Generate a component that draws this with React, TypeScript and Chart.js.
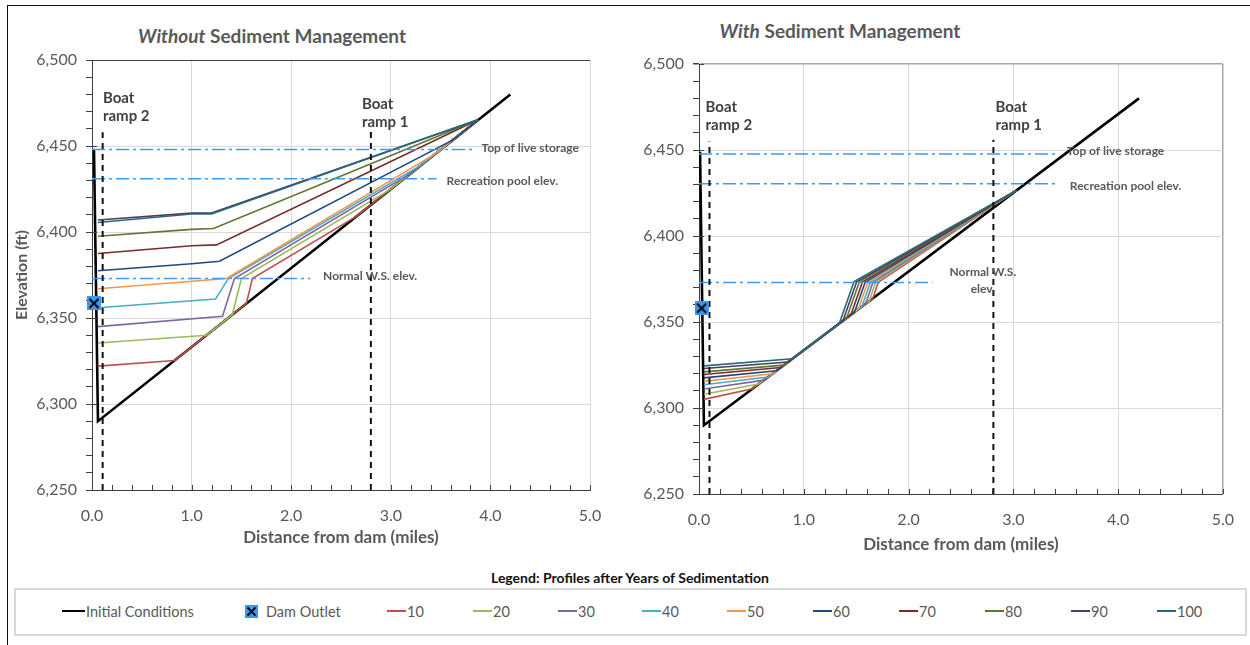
import React, { useEffect, useRef } from "react";
import { Chart, registerables } from "chart.js";
Chart.register(...registerables);

const FONT = "Lato, 'Open Sans', sans-serif";
const TEXT = "#595959";
const GRID = "#D9D9D9";
const AXIS = "#404040";
const REF_BLUE = "#3D9BF2";
const MARKER_BLUE = "#3A98EE";

const YEARS = ["10", "20", "30", "40", "50", "60", "70", "80", "90", "100"];
const YEAR_COLORS = ["#C0504D", "#9BBB59", "#8064A2", "#4BACC6", "#F79646", "#1F497D", "#772C2A", "#5F7530", "#4D3B62", "#276A7C"];

const Y_MIN = 6250;
const Y_MAX = 6500;
const X_MIN = 0;
const X_MAX = 5;

// Initial conditions (thalweg)
const INIT_L_X = [0.02, 0.06, 4.2];
const INIT_L_Y = [6448, 6290, 6480];
const INIT_R_X = [0.01, 0.047, 4.2];
const INIT_R_Y = [6449, 6290, 6480];

// Dam outlet
const OUTLET_L = { x: 0.02, y: 6358.5 };
const OUTLET_R = { x: 0.025, y: 6358 };

// Without sediment management: profiles after 10..100 years
const WITHOUT_X = [
  [0.06, 0.83, 1.55, 1.61, 2.65, 3.875],
  [0.06, 1.15, 1.41, 1.5, 3.0, 3.875],
  [0.06, 1.31, 1.43, 3.2, 3.875],
  [0.06, 1.24, 1.37, 3.3, 3.875],
  [0.06, 1.35, 3.45, 3.875],
  [0.06, 1.0, 1.28, 3.62, 3.875],
  [0.06, 1.0, 1.25, 3.875],
  [0.06, 1.0, 1.22, 3.875],
  [0.06, 1.0, 1.2, 3.875],
  [0.06, 1.0, 1.2, 3.875],
];
const WITHOUT_Y = [
  [6322, 6325.3, 6358.4, 6373, 6408.9, 6465.3],
  [6335.5, 6340, 6352, 6373, 6424.9, 6465.3],
  [6345, 6351, 6373, 6434.1, 6465.3],
  [6356, 6361, 6373, 6438.7, 6465.3],
  [6367, 6373, 6445.6, 6465.3],
  [6377.5, 6381.5, 6383, 6453.4, 6465.3],
  [6387.5, 6392, 6392.5, 6465.3],
  [6397.5, 6401.5, 6402, 6465.3],
  [6407, 6411, 6411, 6465.3],
  [6405.5, 6410.5, 6410.5, 6465.3],
];

// With sediment management
const WITH_X = [
  [0.047, 0.51, 1.34, 1.66, 1.71, 3.03],
  [0.047, 0.57, 1.34, 1.625, 1.685, 3.03],
  [0.047, 0.62, 1.34, 1.59, 1.66, 3.03],
  [0.047, 0.66, 1.34, 1.555, 1.635, 3.03],
  [0.047, 0.7, 1.34, 1.52, 1.61, 3.03],
  [0.047, 0.74, 1.34, 1.485, 1.585, 3.03],
  [0.047, 0.78, 1.34, 1.45, 1.56, 3.03],
  [0.047, 0.81, 1.34, 1.41, 1.53, 3.03],
  [0.047, 0.85, 1.34, 1.375, 1.505, 3.03],
  [0.047, 0.89, 1.34, 1.34, 1.48, 3.03],
];
const WITH_Y = [
  [6305, 6311.2, 6349.2, 6363.8, 6373, 6426.5],
  [6308, 6313.9, 6349.2, 6362.2, 6373, 6426.5],
  [6311, 6316.2, 6349.2, 6360.6, 6373, 6426.5],
  [6313.5, 6318.0, 6349.2, 6359.0, 6373, 6426.5],
  [6315.5, 6319.9, 6349.2, 6357.4, 6373, 6426.5],
  [6317.5, 6321.7, 6349.2, 6355.8, 6373, 6426.5],
  [6319.5, 6323.5, 6349.2, 6354.2, 6373.2, 6426.5],
  [6321, 6324.9, 6349.2, 6352.4, 6373.3, 6426.5],
  [6323, 6326.7, 6349.2, 6350.8, 6373.4, 6426.5],
  [6324.5, 6328.6, 6349.2, 6349.2, 6373.5, 6426.5],
];

// Reference levels: top of live storage, recreation pool, normal W.S.
const LEVELS_L = [6448, 6431, 6373];
const LEVEL_ENDS_L = [3.82, 3.46, 2.19];
const LEVELS_R = [6447.7, 6430.4, 6373];
const LEVEL_ENDS_R = [3.43, 3.43, 2.23];

// Boat ramps
const RAMPS_L = [0.107, 2.8];
const RAMP_TOPS_L = [6458, 6459];
const RAMPS_R = [0.1, 2.81];
const RAMP_TOPS_R = [6455, 6456];

// Text labels (data coordinates)
const LABELS_L = [
  { lines: ["Boat", "ramp 2"], x: 0.11, y: 6478, kind: "ramp", align: "left" },
  { lines: ["Boat", "ramp 1"], x: 2.71, y: 6474.4, kind: "ramp", align: "left" },
  { lines: ["Top of live storage"], x: 3.91, y: 6449, kind: "level", align: "left" },
  { lines: ["Recreation pool elev."], x: 3.56, y: 6429.7, kind: "level", align: "left" },
  { lines: ["Normal W.S. elev."], x: 2.32, y: 6374.4, kind: "level", align: "left" },
];
const LABELS_R = [
  { lines: ["Boat", "ramp 2"], x: 0.063, y: 6475, kind: "ramp", align: "left" },
  { lines: ["Boat", "ramp 1"], x: 2.83, y: 6475, kind: "ramp", align: "left" },
  { lines: ["Top of live storage"], x: 3.51, y: 6449.4, kind: "level", align: "left" },
  { lines: ["Recreation pool elev."], x: 3.54, y: 6429, kind: "level", align: "left" },
  { lines: ["Normal W.S.", "elev."], x: 2.71, y: 6379, kind: "level", align: "center" },
];

function makeMarker(size: number) {
  const c = document.createElement("canvas");
  c.width = size;
  c.height = size;
  const g = c.getContext("2d")!;
  g.fillStyle = MARKER_BLUE;
  g.fillRect(0, 0, size, size);
  g.strokeStyle = "#000";
  g.lineWidth = 1.8;
  g.beginPath();
  g.moveTo(2.5, 2.5);
  g.lineTo(size - 2.5, size - 2.5);
  g.moveTo(size - 2.5, 2.5);
  g.lineTo(2.5, size - 2.5);
  g.stroke();
  return c;
}

function makeLabelPlugin(items: any[]) {
  return {
    id: "textLabels",
    afterDatasetsDraw(chart: any) {
      const { ctx } = chart;
      const xs = chart.scales.x;
      const ys = chart.scales.y;
      ctx.save();
      items.forEach((it) => {
        const px = xs.getPixelForValue(it.x);
        const py = ys.getPixelForValue(it.y);
        const ramp = it.kind === "ramp";
        ctx.font = ramp ? `bold 15px ${FONT}` : `bold 12px ${FONT}`;
        ctx.fillStyle = ramp ? AXIS : TEXT;
        ctx.textAlign = it.align;
        ctx.textBaseline = "middle";
        const lh = ramp ? 18 : 17;
        it.lines.forEach((t: string, k: number) => ctx.fillText(t, px, py + k * lh));
      });
      ctx.restore();
    },
  };
}

const minorTicksPlugin = {
  id: "minorTicks",
  afterDraw(chart: any) {
    const { ctx, chartArea } = chart;
    const xs = chart.scales.x;
    const ys = chart.scales.y;
    ctx.save();
    ctx.strokeStyle = AXIS;
    ctx.lineWidth = 1;
    ctx.beginPath();
    for (let i = 1; i <= 25; i++) {
      const px = Math.round(xs.getPixelForValue(i / 5)) + 0.5;
      ctx.moveTo(px, chartArea.bottom);
      ctx.lineTo(px, chartArea.bottom - 5);
    }
    for (let v = Y_MIN; v <= Y_MAX; v += 50) {
      const py = Math.round(ys.getPixelForValue(v)) + 0.5;
      ctx.moveTo(chartArea.left, py);
      ctx.lineTo(chartArea.left + 5, py);
    }
    ctx.stroke();
    ctx.restore();
  },
};

function pts(xs: number[], ys: number[]) {
  return xs.map((x, i) => ({ x, y: ys[i] }));
}

function buildDatasets(side: "L" | "R", marker: HTMLCanvasElement) {
  const ds: any[] = [];
  const outlet = side === "L" ? OUTLET_L : OUTLET_R;
  ds.push({
    label: "Dam Outlet",
    data: [outlet],
    showLine: false,
    pointStyle: marker,
    pointRadius: 7,
    clip: false,
    order: 0,
  });
  const ramps = side === "L" ? RAMPS_L : RAMPS_R;
  const rampTops = side === "L" ? RAMP_TOPS_L : RAMP_TOPS_R;
  ramps.forEach((x, i) => {
    ds.push({
      label: "ramp" + i,
      data: [{ x, y: Y_MIN }, { x, y: rampTops[i] }],
      borderColor: "#111",
      borderWidth: 2,
      borderDash: [6, 5],
      order: 1,
    });
  });
  const levels = side === "L" ? LEVELS_L : LEVELS_R;
  const ends = side === "L" ? LEVEL_ENDS_L : LEVEL_ENDS_R;
  levels.forEach((lv, i) => {
    ds.push({
      label: "level" + i,
      data: [{ x: 0, y: lv }, { x: ends[i], y: lv }],
      borderColor: REF_BLUE,
      borderWidth: 1.6,
      borderDash: [13, 4, 3, 4],
      order: 2,
    });
  });
  const SX = side === "L" ? WITHOUT_X : WITH_X;
  const SY = side === "L" ? WITHOUT_Y : WITH_Y;
  YEARS.forEach((name, i) => {
    ds.push({
      label: name,
      data: pts(SX[i], SY[i]),
      borderColor: YEAR_COLORS[i],
      borderWidth: 1.6,
      order: 13 - i,
    });
  });
  ds.push({
    label: "Initial Conditions",
    data: side === "L" ? pts(INIT_L_X, INIT_L_Y) : pts(INIT_R_X, INIT_R_Y),
    borderColor: "#000",
    borderWidth: 2.6,
    order: 20,
  });
  return ds;
}

function makeConfig(side: "L" | "R", marker: HTMLCanvasElement) {
  const isL = side === "L";
  const topColor = isL ? AXIS : "#A6A6A6";
  const edgeColor = isL ? GRID : "#A6A6A6";
  return {
    type: "scatter",
    data: { datasets: buildDatasets(side, marker) },
    plugins: [makeLabelPlugin(isL ? LABELS_L : LABELS_R), minorTicksPlugin],
    options: {
      responsive: false,
      animation: false,
      devicePixelRatio: 1,
      layout: { padding: isL ? { left: 0, right: 30, top: 60, bottom: 0 } : { left: 0, right: 21, top: 64, bottom: 0 } },
      elements: { line: { tension: 0, fill: false }, point: { radius: 0, hoverRadius: 0 } },
      datasets: { scatter: { showLine: true } },
      plugins: { legend: { display: false }, tooltip: { enabled: false }, title: { display: false } },
      scales: {
        x: {
          type: "linear",
          min: X_MIN,
          max: X_MAX,
          afterFit: (s: any) => {
            s.height = isL ? 70 : 66;
          },
          ticks: {
            stepSize: 1,
            padding: 16,
            color: TEXT,
            font: { family: FONT, size: 16 },
            callback: (v: any) => Number(v).toFixed(1),
          },
          grid: {
            drawTicks: false,
            color: (c: any) => (c.tick && c.tick.value === X_MAX ? edgeColor : GRID),
            lineWidth: (c: any) => (c.tick && c.tick.value === X_MAX && !isL ? 1.5 : 1),
          },
          border: { color: AXIS, width: 1 },
          title: {
            display: true,
            text: "Distance from dam (miles)",
            color: TEXT,
            font: { family: FONT, size: 17, weight: "bold" },
            padding: { top: 0, bottom: isL ? 12 : 5 },
          },
        },
        y: {
          type: "linear",
          min: Y_MIN,
          max: Y_MAX,
          afterFit: (s: any) => {
            s.width = isL ? 92 : 89;
          },
          ticks: {
            stepSize: 10,
            autoSkip: false,
            padding: 9,
            color: TEXT,
            font: { family: FONT, size: 16 },
            callback: (v: any) => (Number(v) % 50 === 0 ? Number(v).toLocaleString("en-US") : ""),
          },
          grid: {
            tickLength: 6,
            tickColor: AXIS,
            color: (c: any) => {
              const v = c.tick ? c.tick.value : 0;
              if (v % 50 !== 0) return "rgba(0,0,0,0)";
              return v === Y_MAX ? topColor : GRID;
            },
            lineWidth: (c: any) => (c.tick && c.tick.value === Y_MAX && !isL ? 1.5 : 1),
          },
          border: { color: AXIS, width: 1 },
          title: {
            display: isL,
            text: "Elevation (ft)",
            color: TEXT,
            font: { family: FONT, size: 16, weight: "bold" },
            padding: { top: 12, bottom: 0 },
          },
        },
      },
    },
  };
}

function ProfileChart({ side, left, width }: { side: "L" | "R"; left: number; width: number }) {
  const ref = useRef<HTMLCanvasElement | null>(null);
  useEffect(() => {
    if (!ref.current) return;
    const chart = new Chart(ref.current, makeConfig(side, makeMarker(14)) as any);
    return () => chart.destroy();
  }, [side]);
  return (
    <canvas
      ref={ref}
      width={width}
      height={560}
      style={{ position: "absolute", left, top: 0, width, height: 560, display: "block" }}
    />
  );
}

const LEGEND_LINE_X = [387, 473, 558, 642, 727, 813, 899, 985, 1071, 1157];

function MarkerIcon() {
  return (
    <svg width="13" height="13" viewBox="0 0 13 13" style={{ display: "block" }}>
      <rect x="0" y="0" width="13" height="13" fill={MARKER_BLUE} />
      <path d="M2.5 2.5 L10.5 10.5 M10.5 2.5 L2.5 10.5" stroke="#000" strokeWidth="1.8" />
    </svg>
  );
}

function Legend() {
  const itemStyle: React.CSSProperties = {
    position: "absolute",
    top: 611 - 10,
    height: 20,
    display: "flex",
    alignItems: "center",
    fontFamily: FONT,
    fontSize: 14.5,
    color: TEXT,
    whiteSpace: "nowrap",
  };
  const line = (color: string, w: number) => (
    <span style={{ display: "inline-block", width: w, height: 0, borderTop: `2px solid ${color}`, marginRight: 1 }} />
  );
  return (
    <>
      <div
        style={{
          position: "absolute",
          left: 330,
          width: 600,
          top: 569,
          lineHeight: "18px",
          textAlign: "center",
          fontFamily: FONT,
          fontWeight: "bold",
          fontSize: 14,
          color: "#111",
        }}
      >
        Legend: Profiles after Years of Sedimentation
      </div>
      <div
        style={{
          position: "absolute",
          left: 14,
          top: 588,
          width: 1233,
          height: 48,
          border: "2px solid #D9D9D9",
          boxSizing: "border-box",
        }}
      />
      <div style={{ ...itemStyle, left: 62 }}>
        {line("#000", 23)}
        Initial Conditions
      </div>
      <div style={{ ...itemStyle, left: 245 }}>
        <MarkerIcon />
        <span style={{ marginLeft: 8 }}>Dam Outlet</span>
      </div>
      {YEARS.map((y, i) => (
        <div key={y} style={{ ...itemStyle, left: LEGEND_LINE_X[i] }}>
          {line(YEAR_COLORS[i], 19)}
          {y}
        </div>
      ))}
    </>
  );
}

export default function App() {
  const titleStyle: React.CSSProperties = {
    position: "absolute",
    textAlign: "center",
    fontFamily: FONT,
    fontWeight: "bold",
    fontSize: 19,
    lineHeight: "22px",
    color: TEXT,
  };
  return (
    <div style={{ position: "absolute", left: 0, top: 0, width: 1250, height: 645, overflow: "hidden", background: "#fff" }}>
      <div
        style={{
          position: "absolute",
          left: 7,
          top: 5,
          width: 1250,
          height: 650,
          borderTop: "1.5px solid #111",
          borderLeft: "1.5px solid #111",
        }}
      />
      <div style={{ ...titleStyle, left: 0, width: 544, top: 25 }}>
        <i>Without</i> Sediment Management
      </div>
      <div style={{ ...titleStyle, left: 640, width: 400, top: 20 }}>
        <i>With</i> Sediment Management
      </div>
      <ProfileChart side="L" left={0} width={620} />
      <ProfileChart side="R" left={610} width={640} />
      <Legend />
    </div>
  );
}
